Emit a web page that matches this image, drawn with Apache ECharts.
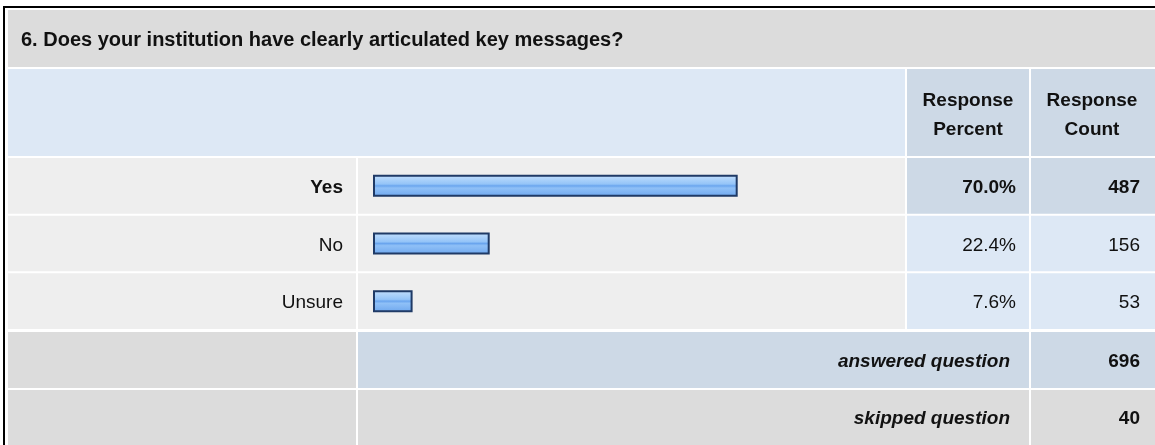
<!DOCTYPE html>
<html>
<head>
<meta charset="utf-8">
<script src="https://cdn.jsdelivr.net/npm/echarts@6/dist/echarts.min.js"></script>
<style>
  html, body { margin: 0; padding: 0; background: #ffffff; }
  #chart { width: 1155px; height: 445px; }
</style>
</head>
<body>
<div id="chart"></div>
<script>
// Survey question and answer data
const questionTitle = '6. Does your institution have clearly articulated key messages?';
const answerChoices = ['Yes', 'No', 'Unsure'];
const responsePercent = [70.0, 22.4, 7.6];
const responseCount = [487, 156, 53];
const columnHeaders = ['Response\nPercent', 'Response\nCount'];
const footerLabels = ['answered question', 'skipped question'];
const footerCounts = [696, 40];

// Table layout (pixels)
const FONT = '"Liberation Sans", Arial, Helvetica, sans-serif';
const colLabel = [8, 356];
const colBar = [358, 905];
const colPct = [907, 1029];
const colCnt = [1031, 1160];
const GRAY = '#dcdcdc';
const ROW_GRAY = '#eeeeee';
const LIGHT_BLUE = '#dde8f5';
const BLUE_GRAY = '#cdd9e6';
const TEXT = '#111111';
const TEXT_DROP = 2; // text sits slightly below the cell middle

// the row holding the largest share is emphasised
const topIndex = responsePercent.indexOf(Math.max(...responsePercent));

const chart = echarts.init(document.getElementById('chart'), null, { renderer: 'canvas' });

function rect(x0, x1, y0, y1, fill) {
  return { type: 'rect', z: 0, silent: true, shape: { x: x0, y: y0, width: x1 - x0, height: y1 - y0 }, style: { fill: fill } };
}
function text(str, x, y, align, font) {
  return { type: 'text', z: 1, silent: true, style: { text: str, x: x, y: y, textAlign: align, textVerticalAlign: 'middle', font: font, fill: TEXT, lineHeight: 29 } };
}

const graphics = [
  // outer frame
  { type: 'rect', z: 0, silent: true, shape: { x: 4, y: 7, width: 1200, height: 500 }, style: { fill: '#ffffff', stroke: '#000000', lineWidth: 2 } },
  // question title
  rect(8, 1160, 10, 67, GRAY),
  text(questionTitle, 21, 40, 'left', 'bold 20px ' + FONT),
  // column header row
  rect(colLabel[0], colBar[1], 69, 156, LIGHT_BLUE),
  rect(colPct[0], colPct[1], 69, 156, BLUE_GRAY),
  rect(colCnt[0], colCnt[1], 69, 156, BLUE_GRAY),
  text(columnHeaders[0], (colPct[0] + colPct[1]) / 2, 115, 'center', 'bold 19px ' + FONT),
  text(columnHeaders[1], (colCnt[0] + 1153) / 2, 115, 'center', 'bold 19px ' + FONT),
  // answered question row
  rect(colLabel[0], colLabel[1], 332, 388, GRAY),
  rect(colBar[0], colPct[1], 332, 388, BLUE_GRAY),
  rect(colCnt[0], colCnt[1], 332, 388, BLUE_GRAY),
  text(footerLabels[0], 1010, 362, 'right', 'italic bold 19px ' + FONT),
  text(String(footerCounts[0]), 1140, 362, 'right', 'bold 19px ' + FONT),
  // skipped question row
  rect(colLabel[0], colLabel[1], 390, 460, GRAY),
  rect(colBar[0], colPct[1], 390, 460, GRAY),
  rect(colCnt[0], colCnt[1], 390, 460, GRAY),
  text(footerLabels[1], 1010, 419, 'right', 'italic bold 19px ' + FONT),
  text(String(footerCounts[1]), 1140, 419, 'right', 'bold 19px ' + FONT)
];

// one data row of the table: background cells plus percent and count text
function renderRow(params, api) {
  const idx = api.value(1);
  const y = api.coord([0, idx])[1];
  const band = api.size([0, 1])[1];
  const y0 = y - band / 2 + 1;
  const h = band - 2;
  const strong = idx === topIndex;
  const valFill = strong ? BLUE_GRAY : LIGHT_BLUE;
  const weight = strong ? 'bold ' : '';
  const cell = (x0, x1, fill) => ({ type: 'rect', shape: { x: x0, y: y0, width: x1 - x0, height: h }, style: { fill: fill } });
  const label = (str, x) => ({ type: 'text', style: { text: str, x: x, y: y + TEXT_DROP, textAlign: 'right', textVerticalAlign: 'middle', font: weight + '19px ' + FONT, fill: TEXT } });
  return {
    type: 'group',
    children: [
      cell(colLabel[0], colLabel[1], ROW_GRAY),
      cell(colBar[0], colBar[1], ROW_GRAY),
      cell(colPct[0], colPct[1], valFill),
      cell(colCnt[0], colCnt[1], valFill),
      label(api.value(0).toFixed(1) + '%', 1016),
      label(String(api.value(2)), 1140)
    ]
  };
}

const barFill = new echarts.graphic.LinearGradient(0, 0, 0, 1, [
  { offset: 0, color: '#c4e0fd' },
  { offset: 0.42, color: '#94c4f8' },
  { offset: 0.5, color: '#6aa5ee' },
  { offset: 0.6, color: '#8fc0f7' },
  { offset: 1, color: '#6ea7ee' }
]);

chart.setOption({
  animation: false,
  graphic: graphics,
  grid: { left: 373, right: 261, top: 157, bottom: 115, containLabel: false },
  xAxis: { type: 'value', min: 0, max: 100, show: false },
  yAxis: {
    type: 'category',
    data: answerChoices,
    inverse: true,
    z: 5,
    axisLine: { show: false },
    axisTick: { show: false },
    splitLine: { show: false },
    axisLabel: {
      margin: 30,
      fontFamily: FONT,
      fontSize: 19,
      color: TEXT,
      padding: [TEXT_DROP * 2, 0, 0, 0],
      formatter: (v, i) => (i === topIndex ? '{b|' + v + '}' : v),
      rich: { b: { fontFamily: FONT, fontSize: 19, fontWeight: 'bold', color: TEXT } }
    }
  },
  series: [
    {
      type: 'custom',
      z: 1,
      silent: true,
      renderItem: renderRow,
      encode: { x: 0, y: 1 },
      data: answerChoices.map((c, i) => [responsePercent[i], i, responseCount[i]])
    },
    {
      type: 'bar',
      z: 3,
      silent: true,
      barWidth: 22,
      data: responsePercent,
      itemStyle: { color: barFill, borderColor: '#1f3a66', borderWidth: 2 }
    }
  ]
});
</script>
</body>
</html>
